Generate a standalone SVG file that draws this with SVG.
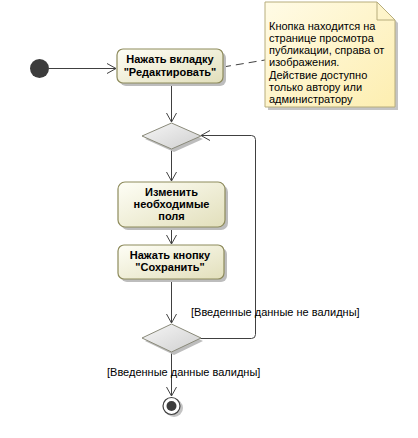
<svg xmlns="http://www.w3.org/2000/svg" width="418" height="438" viewBox="0 0 418 438">
<defs>
<linearGradient id="gAct" x1="0" y1="0" x2="1" y2="1">
<stop offset="0" stop-color="#fefef6"/>
<stop offset="1" stop-color="#e2dfbb"/>
</linearGradient>
<linearGradient id="gDia" x1="0" y1="0" x2="1" y2="1">
<stop offset="0" stop-color="#f6f6f6"/>
<stop offset="1" stop-color="#cfcfcf"/>
</linearGradient>
<linearGradient id="gNote" x1="0" y1="0" x2="1" y2="1">
<stop offset="0" stop-color="#fffbe6"/>
<stop offset="1" stop-color="#fdeeb0"/>
</linearGradient>
<marker id="arr" markerWidth="12" markerHeight="12" refX="10" refY="6" orient="auto" markerUnits="userSpaceOnUse">
<path d="M1,1 L10,6 L1,11" fill="none" stroke="#404040" stroke-width="1"/>
</marker>
</defs>
<style>
.act{fill:url(#gAct);stroke:#8e8b5c;stroke-width:1.2}
.sh{fill:#bdbdbd}
.dia{fill:url(#gDia);stroke:#8a8a7a;stroke-width:1}
.lbl{font-family:"Liberation Sans",Arial,sans-serif;font-size:11px;font-weight:bold;fill:#000;text-anchor:middle}
.note{font-family:"Liberation Sans",Arial,sans-serif;font-size:11px;fill:#000}
.grd{font-family:"Liberation Sans",Arial,sans-serif;font-size:11px;fill:#000}
.ln{fill:none;stroke:#404040;stroke-width:1}
</style>
<g id="connectors">
<line class="ln" x1="49" y1="68.5" x2="116" y2="68.5" marker-end="url(#arr)"/>
<line x1="223" y1="67" x2="265" y2="60" stroke="#404040" stroke-width="1" stroke-dasharray="8,5"/>
<line class="ln" x1="171.5" y1="83" x2="171.5" y2="122" marker-end="url(#arr)"/>
<line class="ln" x1="171.5" y1="149" x2="171.5" y2="181" marker-end="url(#arr)"/>
<line class="ln" x1="171.5" y1="227" x2="171.5" y2="244" marker-end="url(#arr)"/>
<line class="ln" x1="171.5" y1="279" x2="171.5" y2="323" marker-end="url(#arr)"/>
<line class="ln" x1="171.5" y1="352" x2="171.5" y2="396" marker-end="url(#arr)"/>
<path class="ln" d="M200,338.5 H251.5 Q255.5,338.5 255.5,334.5 V139.5 Q255.5,135.5 251.5,135.5 H201" marker-end="url(#arr)"/>
<text class="grd" x="191" y="316">[Введенные данные не валидны]</text>
<text class="grd" x="107" y="376">[Введенные данные валидны]</text>
</g>
<g id="start">
<circle cx="39.5" cy="68.5" r="9.5" fill="#3c3c3c"/>
</g>
<g id="node1">
<rect class="sh" x="120" y="52" width="106" height="34" rx="6"/>
<rect class="act" x="117" y="49" width="106" height="34" rx="6"/>
<text class="lbl" x="170" y="63">Нажать вкладку</text>
<text class="lbl" x="170" y="76">"Редактировать"</text>
</g>
<g id="note">
<path d="M268,5 H380 L398,23 V110 H268 Z" fill="#c4c4c4"/>
<path d="M265,2 H377 L395,20 V107 H265 Z" fill="url(#gNote)" stroke="#b7ad7c" stroke-width="1"/>
<path d="M377,2 V20 H395" fill="none" stroke="#b7ad7c" stroke-width="1"/>
<text class="note" x="269" y="30">Кнопка находится на</text>
<text class="note" x="269" y="42">странице просмотра</text>
<text class="note" x="269" y="54">публикации, справа от</text>
<text class="note" x="269" y="66">изображения.</text>
<text class="note" x="269" y="79">Действие доступно</text>
<text class="note" x="269" y="91">только автору или</text>
<text class="note" x="269" y="103">администратору</text>
</g>
<g id="decision1">
<path d="M145,139 L174,152 L203,139 L174,126 Z" class="sh"/>
<path class="dia" d="M142,136 L171.5,123 L201,136 L171.5,149 Z"/>
</g>
<g id="node2">
<rect class="sh" x="121" y="185" width="107" height="45" rx="7"/>
<rect class="act" x="118" y="182" width="107" height="45" rx="7"/>
<text class="lbl" x="171.5" y="196">Изменить</text>
<text class="lbl" x="171.5" y="208">необходимые</text>
<text class="lbl" x="171.5" y="220">поля</text>
</g>
<g id="node3">
<rect class="sh" x="121" y="248" width="106" height="34" rx="6"/>
<rect class="act" x="118" y="245" width="106" height="34" rx="6"/>
<text class="lbl" x="170" y="259">Нажать кнопку</text>
<text class="lbl" x="170" y="271">"Сохранить"</text>
</g>
<g id="decision2">
<path d="M145,341 L174,355 L203,341 L174,327 Z" class="sh"/>
<path class="dia" d="M142,338 L171.5,324 L201,338 L171.5,352 Z"/>
</g>
<g id="final">
<circle cx="174" cy="408" r="9" fill="#c4c4c4"/>
<circle cx="171.5" cy="406" r="8.5" fill="#fff" stroke="#404040" stroke-width="1.2"/>
<circle cx="171.5" cy="406" r="5" fill="#3c3c3c"/>
</g>
</svg>
